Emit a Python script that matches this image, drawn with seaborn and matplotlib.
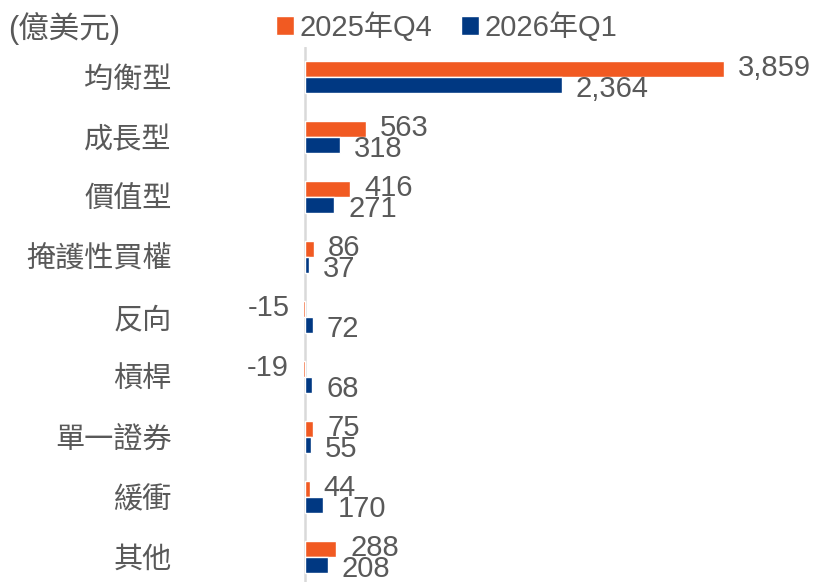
import numpy as np
import pandas as pd
import seaborn as sns
import matplotlib.pyplot as plt

# Data (億美元)
categories = ['均衡型', '成長型', '價值型', '掩護性買權', '反向', '槓桿', '單一證券', '緩衝', '其他']
q4_2025 = [3859, 563, 416, 86, -15, -19, 75, 44, 288]
q1_2026 = [2364, 318, 271, 37, 72, 68, 55, 170, 208]
series_names = ['2025年Q4', '2026年Q1']
colors = ['#F15A22', '#003882']

df = pd.DataFrame({
    'category': categories * 2,
    'value': q4_2025 + q1_2026,
    'series': [series_names[0]] * len(categories) + [series_names[1]] * len(categories),
})

sns.set_style('white')
plt.rcParams['font.family'] = ['Liberation Sans', 'Noto Sans CJK TC', 'DejaVu Sans']
text_color = '#595959'
fs = 21

fig = plt.figure(figsize=(8.16, 5.82), dpi=100)
ax = fig.add_axes([180 / 816, -5 / 582, 630 / 816, 540 / 582])

sns.barplot(data=df, x='value', y='category', hue='series', hue_order=series_names,
            palette=colors, orient='h', width=0.535, saturation=1, ax=ax, legend=True)

# value labels; the second series' labels sit a little lower, as in the original
for cont, dy in zip(ax.containers, [0.7, -3.0]):
    anns = ax.bar_label(cont, fmt='{:,.0f}', padding=10, fontsize=fs, color=text_color)
    for a in anns:
        a.xyann = (a.xyann[0], dy)

ax.set_xlim(-1151, 4650)
ax.axvline(0, color='#D9D9D9', linewidth=1.8, zorder=0)
for s in ax.spines.values():
    s.set_visible(False)
ax.set_xticks([])
ax.set_xlabel('')
ax.set_ylabel('')
ax.tick_params(axis='y', length=0, pad=6, labelsize=fs, labelcolor=text_color)

handles, labels = ax.get_legend_handles_labels()
ax.get_legend().remove()
fig.legend(handles, labels, loc='center left', bbox_to_anchor=(276 / 816, 1 - 27 / 582),
           ncol=2, frameon=False, fontsize=fs, labelcolor=text_color,
           handlelength=0.6, handleheight=0.6, handletextpad=0.2, columnspacing=1.0,
           borderaxespad=0, borderpad=0)

fig.text(8 / 816, 1 - 29 / 582, '(億美元)', fontsize=22, color=text_color, va='center', ha='left')

fig.savefig('out.png', dpi=100)
